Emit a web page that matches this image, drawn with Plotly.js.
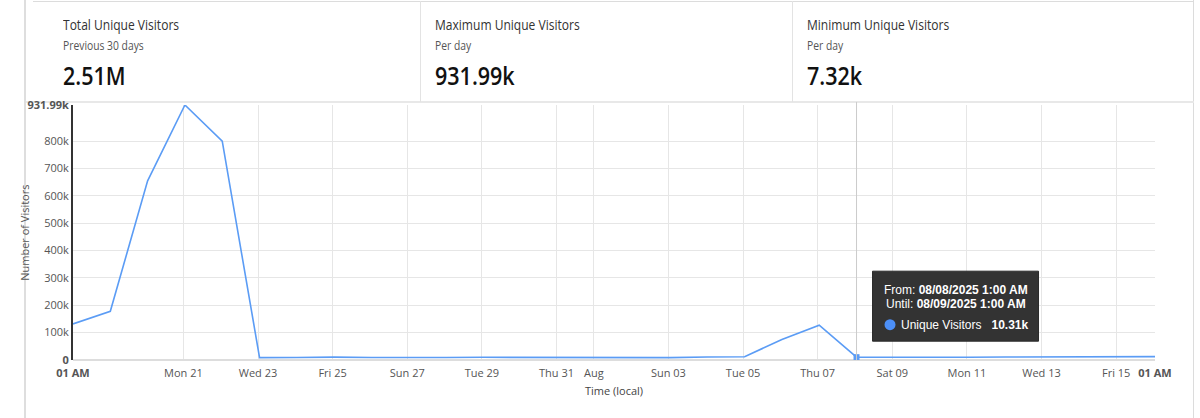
<!DOCTYPE html>
<html>
<head>
<meta charset="utf-8">
<script src="https://cdn.plot.ly/plotly-3.0.1.min.js"></script>
<style>
  html, body { margin: 0; padding: 0; background: #fff; }
  body { width: 1200px; height: 418px; position: relative; overflow: hidden;
         font-family: "Segoe UI", "Open Sans", sans-serif; }
  #chart { position: absolute; left: 0; top: 0; width: 1200px; height: 418px; z-index: 2; }
  .frame-l { position: absolute; left: 24px; top: 0; width: 2px; height: 418px; background: #dedede; }
  .frame-r { position: absolute; left: 1193px; top: 0; width: 1px; height: 418px; background: #dcdcdc; }
  .frame-t { position: absolute; left: 33px; top: 1px; width: 1161px; height: 1px; background: #dcdcdc; }
  .frame-b { position: absolute; left: 26px; top: 101px; width: 1168px; height: 2px; background: #e8e8e8; }
  .sep { position: absolute; top: 1px; width: 1px; height: 101px; background: #e3e3e3; }
  .card { position: absolute; top: 0; height: 100px; }
  .card div { transform: scaleX(0.86); transform-origin: left center; white-space: nowrap; position: absolute; left: 0; }
  .ttl { top: 15px; font-size: 14px; color: #333; }
  .sub { top: 37px; font-size: 12px; color: #555; }
  .val { top: 58px; font-size: 25px; font-weight: 600; color: #111; }
</style>
</head>
<body>
<div class="frame-l"></div>
<div class="frame-r"></div>
<div class="frame-t"></div>
<div class="frame-b"></div>
<div class="sep" style="left:420px"></div>
<div class="sep" style="left:792px"></div>
<div id="cards"></div>
<div id="chart"></div>
<script>
// summary cards
var cardTitles = ['Total Unique Visitors', 'Maximum Unique Visitors', 'Minimum Unique Visitors'];
var cardSubs = ['Previous 30 days', 'Per day', 'Per day'];
var cardValues = ['2.51M', '931.99k', '7.32k'];

// daily unique visitors, one point per day at 01:00 local
var days = [
  '2025-07-18 01:00', '2025-07-19 01:00', '2025-07-20 01:00', '2025-07-21 01:00', '2025-07-22 01:00',
  '2025-07-23 01:00', '2025-07-24 01:00', '2025-07-25 01:00', '2025-07-26 01:00', '2025-07-27 01:00',
  '2025-07-28 01:00', '2025-07-29 01:00', '2025-07-30 01:00', '2025-07-31 01:00', '2025-08-01 01:00',
  '2025-08-02 01:00', '2025-08-03 01:00', '2025-08-04 01:00', '2025-08-05 01:00', '2025-08-06 01:00',
  '2025-08-07 01:00', '2025-08-08 01:00', '2025-08-09 01:00', '2025-08-10 01:00', '2025-08-11 01:00',
  '2025-08-12 01:00', '2025-08-13 01:00', '2025-08-14 01:00', '2025-08-15 01:00', '2025-08-16 01:00'
];
var visitors = [
  132000, 178000, 655000, 931990, 800000,
  8500, 9000, 10500, 9200, 8300,
  9000, 9800, 9100, 8200, 7900,
  7320, 8800, 10800, 12000, 75000,
  127000, 10310, 9300, 9100, 9900,
  10800, 11600, 12000, 12100, 12300
];

// axis ticks
var xTickVals = ['2025-07-18 01:00', '2025-07-21', '2025-07-23', '2025-07-25', '2025-07-27', '2025-07-29',
  '2025-07-31', '2025-08-01', '2025-08-03', '2025-08-05', '2025-08-07', '2025-08-09', '2025-08-11',
  '2025-08-13', '2025-08-15', '2025-08-16 01:00'];
var xTickText = ['<b>01 AM</b>', 'Mon 21', 'Wed 23', 'Fri 25', 'Sun 27', 'Tue 29', 'Thu 31', 'Aug',
  'Sun 03', 'Tue 05', 'Thu 07', 'Sat 09', 'Mon 11', 'Wed 13', 'Fri 15', '<b>01 AM</b>'];
var yTickVals = [0, 100000, 200000, 300000, 400000, 500000, 600000, 700000, 800000, 931990];
var yTickText = ['<b>0</b>', '100k', '200k', '300k', '400k', '500k', '600k', '700k', '800k', '<b>931.99k</b>'];

// hovered point shown in the tooltip
var hoverIdx = 21;
var hoverFrom = '08/08/2025 1:00 AM';
var hoverUntil = '08/09/2025 1:00 AM';
var hoverLabel = '10.31k';

var lineColor = '#5b9cf5';

var cardLeft = [63, 435, 807];
var html = '';
cardTitles.forEach(function (t, i) {
  html += '<div class="card" style="left:' + cardLeft[i] + 'px">' +
    '<div class="ttl">' + t + '</div>' +
    '<div class="sub">' + cardSubs[i] + '</div>' +
    '<div class="val">' + cardValues[i] + '</div></div>';
});
document.getElementById('cards').innerHTML = html;

var data = [{
  x: days,
  y: visitors,
  type: 'scatter',
  mode: 'lines',
  line: { color: lineColor, width: 1.6 },
  hoverinfo: 'skip'
}, {
  x: [days[hoverIdx]],
  y: [visitors[hoverIdx]],
  type: 'scatter',
  mode: 'markers',
  marker: { color: lineColor, size: 6, symbol: 'square' },
  hoverinfo: 'skip'
}];

var tipFont = { family: 'Liberation Sans, Arial, sans-serif', size: 12, color: '#ffffff' };
var hx = days[hoverIdx], hy = visitors[hoverIdx];

var layout = {
  width: 1200,
  height: 418,
  margin: { l: 73, r: 45, t: 105, b: 58 },
  paper_bgcolor: 'rgba(0,0,0,0)',
  plot_bgcolor: 'rgba(0,0,0,0)',
  showlegend: false,
  font: { family: 'Segoe UI, Open Sans, sans-serif', size: 11, color: '#555' },
  xaxis: {
    type: 'date',
    range: [days[0], days[days.length - 1]],
    tickvals: xTickVals,
    ticktext: xTickText,
    tickfont: { size: 11, color: '#555' },
    ticklabelstandoff: 5,
    showgrid: true,
    gridcolor: '#e6e6e6',
    ticks: '',
    showline: false,
    title: { text: 'Time (local)', font: { size: 11, color: '#444' }, standoff: 8 },
    fixedrange: true
  },
  yaxis: {
    range: [0, 931990],
    tickvals: yTickVals,
    ticktext: yTickText,
    tickfont: { size: 11, color: '#555' },
    showgrid: true,
    gridcolor: '#e6e6e6',
    zeroline: true,
    zerolinecolor: '#dddddd',
    zerolinewidth: 2,
    showline: true,
    linecolor: '#333',
    linewidth: 2,
    ticks: '',
    fixedrange: true
  },
  shapes: [{
    type: 'line', xref: 'x', yref: 'paper',
    x0: hx, x1: hx, y0: 0, y1: 1.012,
    line: { color: '#cccccc', width: 1 }
  }, {
    type: 'rect', xref: 'x', yref: 'y',
    xsizemode: 'pixel', ysizemode: 'pixel',
    xanchor: hx, yanchor: hy,
    x0: 16, x1: 182, y0: 16, y1: 86,
    fillcolor: '#333333', line: { color: '#2a2a2a', width: 1 }
  }, {
    type: 'circle', xref: 'x', yref: 'y',
    xsizemode: 'pixel', ysizemode: 'pixel',
    xanchor: hx, yanchor: hy,
    x0: 28, x1: 39, y0: 27, y1: 38,
    fillcolor: '#4c8ff7', line: { width: 0 }
  }],
  annotations: [{
    xref: 'paper', yref: 'paper', x: -0.045, y: 0.5,
    xanchor: 'center', yanchor: 'middle', textangle: -90, showarrow: false,
    text: 'Number of Visitors', font: { size: 11, color: '#555' }
  }, {
    xref: 'x', yref: 'y', x: hx, y: hy,
    xshift: 99, yshift: 67, showarrow: false, font: tipFont,
    text: 'From: <b>' + hoverFrom + '</b>'
  }, {
    xref: 'x', yref: 'y', x: hx, y: hy,
    xshift: 99, yshift: 53, showarrow: false, font: tipFont,
    text: 'Until: <b>' + hoverUntil + '</b>'
  }, {
    xref: 'x', yref: 'y', x: hx, y: hy,
    xshift: 108, yshift: 32, showarrow: false, font: tipFont,
    text: 'Unique Visitors   <b>' + hoverLabel + '</b>'
  }]
};

var config = { displayModeBar: false, staticPlot: true };

Plotly.newPlot('chart', data, layout, config);
</script>
</body>
</html>
